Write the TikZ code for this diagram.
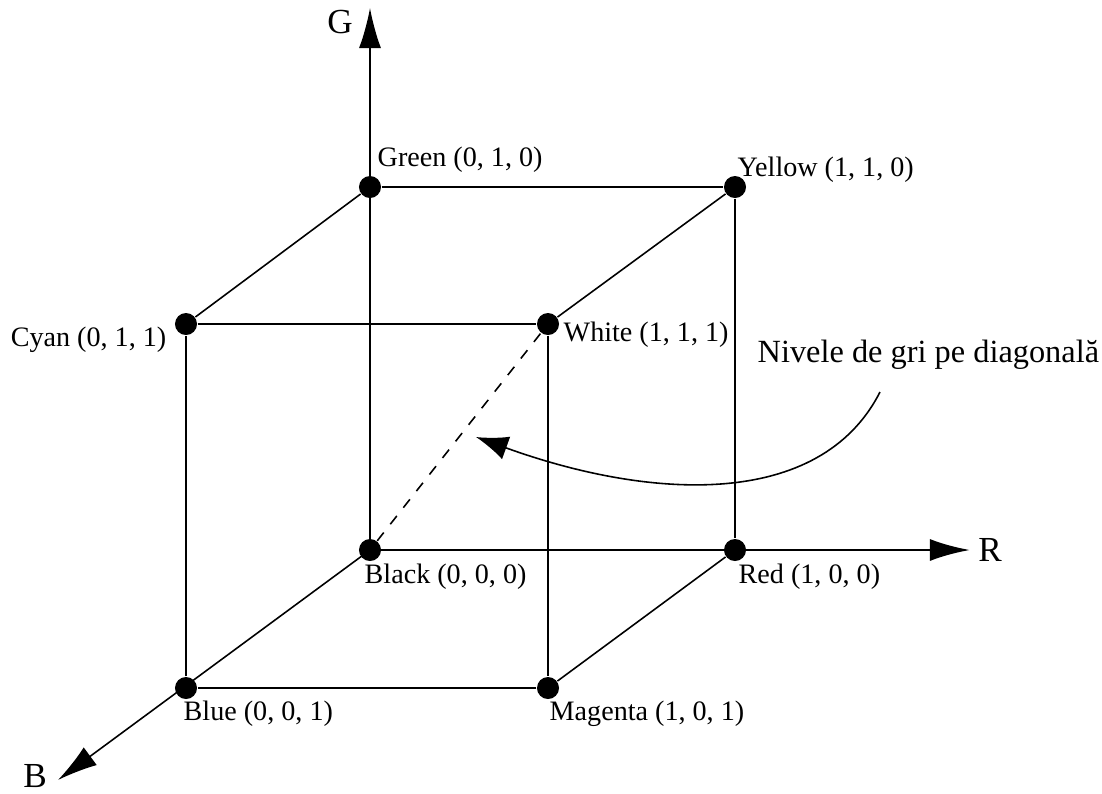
\documentclass[tikz,border=0pt]{standalone}
\usepackage{fontspec}
\setmainfont{Liberation Serif}
\usetikzlibrary{arrows.meta,positioning}
\tikzset{
  vertex/.style={circle,fill=black,inner sep=0pt,minimum size=0.22cm},
  lbl/.style={inner sep=0pt,font=\fontsize{8}{9}\selectfont},
  axislbl/.style={inner sep=0pt,font=\fontsize{10}{12}\selectfont},
  edge/.style={line width=0.45pt},
  axis/.style={line width=0.45pt,-{Latex[length=0.4cm,width=0.22cm]}}
}
\begin{document}
\begin{tikzpicture}[x=0.01cm,y=-0.01cm]
  \useasboundingbox (0,0) rectangle (1102,793);
  % axis ends
  \coordinate (gend) at (370,8);
  \coordinate (rend) at (970,550);
  \coordinate (bend) at (58,780);
  % corners of the cube
  \coordinate (blackc) at (370,550);
  \draw[axis] (blackc) -- (gend);
  \draw[axis,line width=0.8pt] (blackc) -- (rend);
  \draw[axis] (blackc) -- (bend);
  \node[vertex] (black) at (blackc) {};
  \node[vertex] (red) at (735,550) {};
  \node[vertex] (green) at (370,187) {};
  \node[vertex] (yellow) at (735,187) {};
  \node[vertex] (cyan) at (186,324) {};
  \node[vertex] (white) at (548,324) {};
  \node[vertex] (blue) at (186,688) {};
  \node[vertex] (magenta) at (548,688) {};
  % edges
  \draw[edge] (green) -- (yellow) -- (red);
  \draw[edge] (cyan) -- (white) -- (magenta) -- (blue) -- (cyan);
  \draw[edge] (cyan) -- (green);
  \draw[edge] (white) -- (yellow);
  \draw[edge] (magenta) -- (red);
  \draw[edge,dash pattern=on 3pt off 3pt] (black) -- (white);
  % labels
  \node[lbl,anchor=west] (greenlbl) at (377,160) {Green (0, 1, 0)};
  \node[lbl,anchor=west] (yellowlbl) at (737,170) {Yellow (1, 1, 0)};
  \node[lbl,anchor=east] (cyanlbl) at (167,340) {Cyan (0, 1, 1)};
  \node[lbl,anchor=west] (whitelbl) at (563,335) {White (1, 1, 1)};
  \node[lbl,anchor=west] (blacklbl) at (364,577) {Black (0, 0, 0)};
  \node[lbl,anchor=west] (redlbl) at (738,577) {Red (1, 0, 0)};
  \node[lbl,anchor=west] (bluelbl) at (183,714) {Blue (0, 0, 1)};
  \node[lbl,anchor=west] (magentalbl) at (549,714) {Magenta (1, 0, 1)};
  \node[axislbl] (glbl) at (340,22) {G};
  \node[axislbl] (rlbl) at (990,550) {R};
  \node[axislbl] (blbl) at (35,776) {B};
  % grey levels note
  \node[inner sep=0pt,anchor=west,font=\fontsize{9.2}{11}\selectfont] (note) at (757,355) {Nivele de gri pe diagonală};
  \coordinate (notestart) at (880,392);
  \coordinate (diag) at (476,437);
  \draw[edge,-{Latex[length=0.32cm,width=0.24cm]}] (notestart) .. controls (820,510) and (650,500) .. (diag);
\end{tikzpicture}
\end{document}
